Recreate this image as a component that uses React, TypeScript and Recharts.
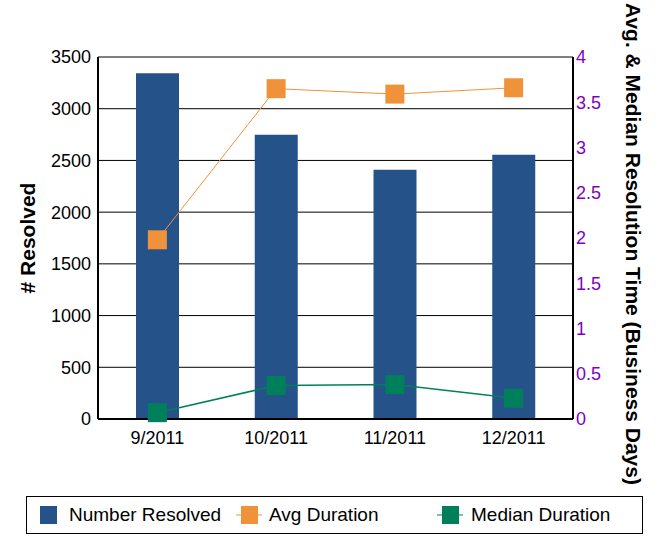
import React from "react";
import {
  Bar,
  CartesianGrid,
  ComposedChart,
  Line,
  XAxis,
  YAxis,
} from "recharts";

document.body.style.margin = "0";

const months = ["9/2011", "10/2011", "11/2011", "12/2011"];
const numberResolved = [3342, 2749, 2410, 2555];
const avgDuration = [1.98, 3.65, 3.59, 3.66];
const medianDuration = [0.07, 0.37, 0.38, 0.23];

const leftTicks = [0, 500, 1000, 1500, 2000, 2500, 3000, 3500];
const rightTicks = [0, 0.5, 1, 1.5, 2, 2.5, 3, 3.5, 4];

const BLUE = "#26528A";
const ORANGE = "#F0923A";
const GREEN = "#00805A";
const PURPLE = "#8000C0";
const FONT = "'Liberation Sans', Arial, sans-serif";

const data = months.map((m, i) => ({
  month: m,
  resolved: numberResolved[i],
  avg: avgDuration[i],
  median: medianDuration[i],
}));

const squareDot = (color: string, size: number) => (props: any) => {
  const { cx, cy, index } = props;
  return (
    <rect
      key={`dot-${color}-${index}`}
      x={cx - size / 2}
      y={cy - size / 2}
      width={size}
      height={size}
      fill={color}
    />
  );
};

const rightTitle = (props: any) => {
  const vb = props.viewBox;
  const x = vb.x + vb.width - 30;
  const y = vb.y + vb.height / 2 + 6;
  return (
    <text
      x={x}
      y={y}
      transform={`rotate(90, ${x}, ${y})`}
      textAnchor="middle"
      dominantBaseline="central"
      fill="#000"
      fontSize={21}
      fontWeight="bold"
      fontFamily={FONT}
    >
      Avg. &amp; Median Resolution Time (Business Days)
    </text>
  );
};

// legend positions are relative to the page
function LegendItem({ kind, color, label, x, textX }: { kind: "bar" | "line"; color: string; label: string; x: number; textX: number }) {
  return (
    <>
      <svg width={28} height={20} style={{ position: "absolute", left: x, top: 505 }}>
        {kind === "line" && <line x1={0} y1={10} x2={26} y2={10} stroke={color} strokeWidth={1} />}
        {kind === "bar" ? (
          <rect x={0} y={1} width={17} height={18} fill={color} />
        ) : (
          <rect x={5} y={1} width={17} height={18} fill={color} />
        )}
      </svg>
      <span style={{ position: "absolute", left: textX, top: 504, fontSize: 19, lineHeight: "22px" }}>{label}</span>
    </>
  );
}

export default function App() {
  return (
    <div style={{ position: "relative", width: 663, height: 543, fontFamily: FONT, background: "#fff", color: "#000" }}>
      <ComposedChart
        width={663}
        height={543}
        data={data}
        margin={{ top: 57, right: 0, left: 0, bottom: 94 }}
      >
        <CartesianGrid yAxisId="left" vertical={false} stroke="#000" strokeWidth={1} />
        <XAxis
          dataKey="month"
          height={30}
          axisLine={{ stroke: "#000", strokeWidth: 2 }}
          tickLine={false}
          tick={{ fill: "#000", fontSize: 18, fontFamily: FONT }}
          tickMargin={6}
        />
        <YAxis
          yAxisId="left"
          width={98}
          domain={[0, 3500]}
          ticks={leftTicks}
          interval={0}
          axisLine={{ stroke: "#000", strokeWidth: 2 }}
          tickLine={false}
          tick={{ fill: "#000", fontSize: 18, fontFamily: FONT }}
          tickMargin={0}
          tickSize={7}
          label={{
            value: "# Resolved",
            angle: -90,
            position: "insideLeft",
            offset: 28,
            style: { fill: "#000", fontSize: 21, fontWeight: "bold", fontFamily: FONT, textAnchor: "middle" },
          }}
        />
        <YAxis
          yAxisId="right"
          orientation="right"
          width={90}
          domain={[0, 4]}
          ticks={rightTicks}
          interval={0}
          axisLine={{ stroke: "#000", strokeWidth: 2 }}
          tickLine={false}
          tick={{ fill: PURPLE, fontSize: 18, fontFamily: FONT }}
          tickMargin={0}
          tickSize={3}
          label={{ content: rightTitle }}
        />
        <Bar yAxisId="left" dataKey="resolved" fill={BLUE} barSize={43} isAnimationActive={false} />
        <Line
          yAxisId="right"
          dataKey="avg"
          stroke={ORANGE}
          strokeWidth={1}
          dot={squareDot(ORANGE, 19)}
          activeDot={false}
          isAnimationActive={false}
        />
        <Line
          yAxisId="right"
          dataKey="median"
          stroke={GREEN}
          strokeWidth={1.5}
          dot={squareDot(GREEN, 19)}
          activeDot={false}
          isAnimationActive={false}
        />
      </ComposedChart>
      <div
        style={{
          position: "absolute",
          left: 26,
          top: 496,
          width: 617,
          height: 38,
          border: "1px solid #000",
          boxSizing: "border-box",
        }}
      />
      <LegendItem kind="bar" color={BLUE} label="Number Resolved" x={40} textX={69} />
      <LegendItem kind="line" color={ORANGE} label="Avg Duration" x={236} textX={269} />
      <LegendItem kind="line" color={GREEN} label="Median Duration" x={437} textX={471} />
    </div>
  );
}
